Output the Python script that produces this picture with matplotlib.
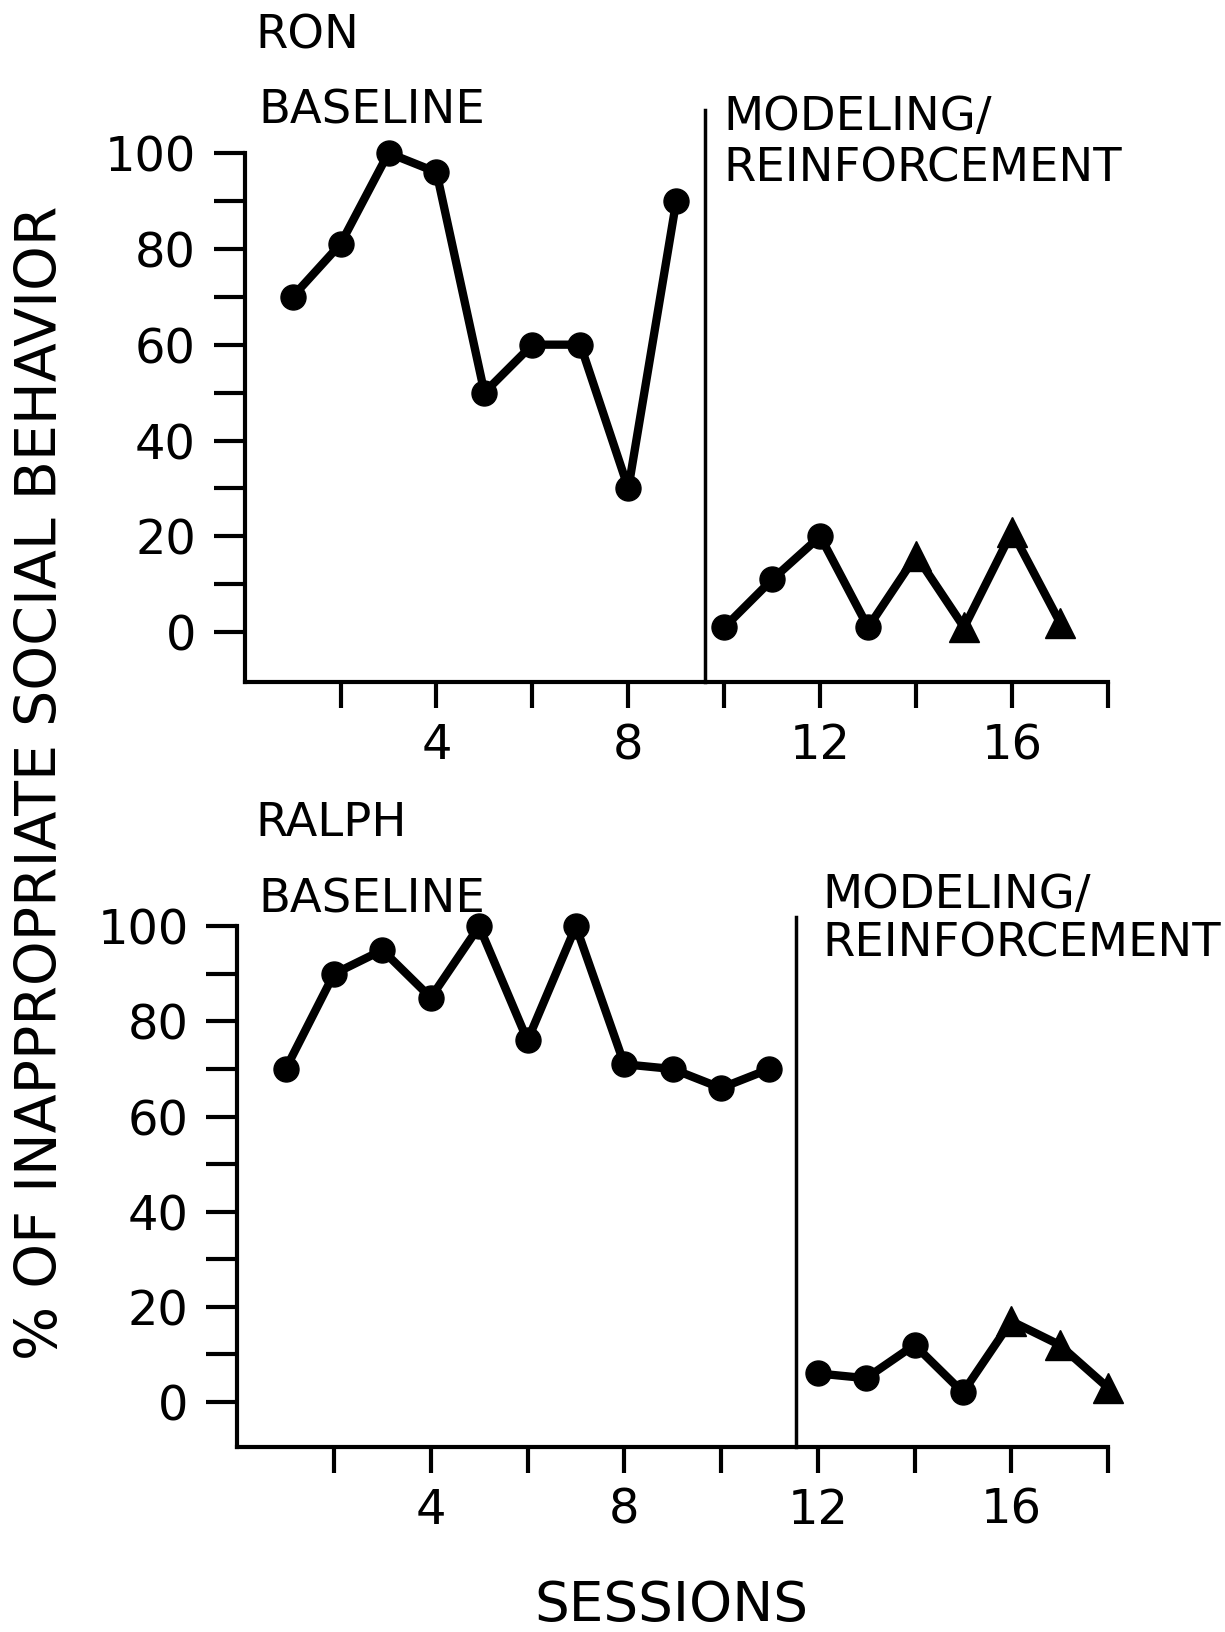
import matplotlib
matplotlib.use("Agg")
import matplotlib.pyplot as plt

# Ron
ron_sessions = [1, 2, 3, 4, 5, 6, 7, 8, 9, 10, 11, 12, 13, 14, 15, 16, 17]
ron_values = [70, 81, 100, 96, 50, 60, 60, 30, 90, 1, 11, 20, 1, 16, 1, 21, 2]
ron_markers = ['o'] * 13 + ['^'] * 4
ron_phase_change = 9.6

# Ralph
ralph_sessions = [1, 2, 3, 4, 5, 6, 7, 8, 9, 10, 11, 12, 13, 14, 15, 16, 17, 18]
ralph_values = [70, 90, 95, 85, 100, 76, 100, 71, 70, 66, 70, 6, 5, 12, 2, 17, 12, 3]
ralph_markers = ['o'] * 15 + ['^'] * 3
ralph_phase_change = 11.55

y_ticks = [0, 10, 20, 30, 40, 50, 60, 70, 80, 90, 100]
y_tick_labels = ['0', '', '20', '', '40', '', '60', '', '80', '', '100']
x_major = [4, 8, 12, 16]
x_minor = [2, 6, 10, 14, 18]

W, H = 1225, 1632
fig = plt.figure(figsize=(W / 100, H / 100), dpi=100)
plt.rcParams['font.family'] = 'DejaVu Sans'


def px(x, y):
    return x / W, 1 - y / H


def panel(rect, sessions, values, markers, phase, ybottom, phase_top, split):
    ax = fig.add_axes(rect)
    ax.plot(sessions[:split], values[:split], color='black', lw=6, zorder=2,
            solid_capstyle='round', clip_on=False)
    ax.plot(sessions[split:], values[split:], color='black', lw=6, zorder=2,
            solid_capstyle='round', clip_on=False)
    for s, v, m in zip(sessions, values, markers):
        ax.plot(s, v, marker=m, color='black',
                markersize=18 if m == 'o' else 21, zorder=3, clip_on=False)
    ax.plot([phase, phase], [ybottom, phase_top], color='black', lw=2.5,
            clip_on=False)
    ax.set_xlim(0, 18)
    ax.set_ylim(ybottom, 100)
    for side in ['top', 'right']:
        ax.spines[side].set_visible(False)
    ax.spines['left'].set_linewidth(3)
    ax.spines['bottom'].set_linewidth(3)
    ax.set_yticks(y_ticks)
    ax.set_yticklabels(y_tick_labels)
    ax.set_xticks(x_major)
    ax.set_xticks(x_minor, minor=True)
    ax.tick_params(axis='y', direction='out', length=22, width=3, pad=13,
                   labelsize=34.5)
    ax.tick_params(axis='x', which='both', direction='out', length=19,
                   width=3, pad=10, labelsize=34.5)
    ax.patch.set_visible(False)
    return ax


panel([244.6 / W, 1 - 682 / H, (1108 - 244.6) / W, (682 - 153) / H],
      ron_sessions, ron_values, ron_markers, ron_phase_change, -10.4, 109, 9)
panel([237.3 / W, 1 - 1446.7 / H, (1108 - 237.3) / W, (1446.7 - 926.3) / H],
      ralph_sessions, ralph_values, ralph_markers, ralph_phase_change, -9.4, 102, 11)

label_fs = 33.5
fig.text(*px(255, 36), 'RON', fontsize=label_fs, va='center', ha='left')
fig.text(*px(258, 111), 'BASELINE', fontsize=label_fs, va='center', ha='left')
fig.text(*px(723, 117), 'MODELING/', fontsize=label_fs, va='center', ha='left')
fig.text(*px(723, 169), 'REINFORCEMENT', fontsize=label_fs, va='center', ha='left')

fig.text(*px(255, 824), 'RALPH', fontsize=label_fs, va='center', ha='left')
fig.text(*px(258, 900), 'BASELINE', fontsize=label_fs, va='center', ha='left')
fig.text(*px(822, 895), 'MODELING/', fontsize=label_fs, va='center', ha='left')
fig.text(*px(822, 944), 'REINFORCEMENT', fontsize=label_fs, va='center', ha='left')

fig.text(*px(42, 783), '% OF INAPPROPRIATE SOCIAL BEHAVIOR', fontsize=41,
         rotation=90, va='center', ha='center')
fig.text(*px(671, 1606), 'SESSIONS', fontsize=39.5, va='center', ha='center')

fig.savefig('out.png', dpi=100, facecolor='white')
